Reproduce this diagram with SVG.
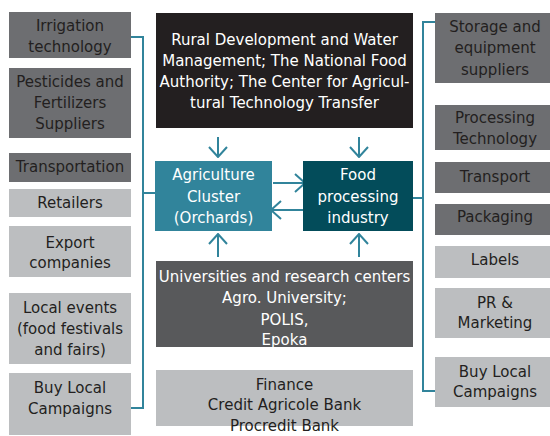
<svg xmlns="http://www.w3.org/2000/svg" width="550" height="436" viewBox="0 0 550 436">
<defs>
<marker id="ah" viewBox="0 0 12 20" refX="11" refY="10" markerWidth="12" markerHeight="20" markerUnits="userSpaceOnUse" orient="auto">
<path d="M1,1 L11,10 L1,19" fill="none" stroke="#31849b" stroke-width="2"/>
</marker>
<style>
text{font-family:"DejaVu Sans","Liberation Sans",sans-serif;font-size:15px;text-anchor:middle;fill:#231f20}
.w{fill:#ffffff}
.dk{fill:#6d6e71}
.lt{fill:#bcbec0}
.ln{fill:none;stroke:#31849b;stroke-width:2}
.ar{fill:none;stroke:#31849b;stroke-width:2;marker-end:url(#ah)}
</style>
</defs>
<rect width="550" height="436" fill="#ffffff"/>
<g id="connectors">
<polyline class="ln" points="131,37 143,37 143,408 131,408"/>
<line class="ln" x1="143" y1="193" x2="155" y2="193"/>
<polyline class="ln" points="413,198 423,198"/>
<polyline class="ln" points="435,22 423,22 423,391 435,391"/>
<line class="ar" x1="218" y1="137" x2="218" y2="157"/>
<line class="ar" x1="359" y1="137" x2="359" y2="157"/>
<line class="ar" x1="273" y1="183" x2="305" y2="183"/>
<line class="ar" x1="303" y1="210" x2="271" y2="210"/>
<line class="ar" x1="218" y1="257" x2="218" y2="234"/>
<line class="ar" x1="359" y1="257" x2="359" y2="234"/>
</g>
<g id="irrigation"><rect class="dk" x="9" y="12" width="122" height="46"/><text x="70" y="31">Irrigation</text><text x="70" y="52">technology</text></g>
<g id="pesticides"><rect class="dk" x="9" y="68" width="122" height="70"/><text x="70" y="87">Pesticides and</text><text x="70" y="108">Fertilizers</text><text x="70" y="129">Suppliers</text></g>
<g id="transportation"><rect class="dk" x="9" y="153" width="122" height="29"/><text x="70" y="172">Transportation</text></g>
<g id="retailers"><rect class="lt" x="9" y="189" width="122" height="28"/><text x="70" y="208">Retailers</text></g>
<g id="export"><rect class="lt" x="9" y="226" width="122" height="51"/><text x="70" y="248">Export</text><text x="70" y="268">companies</text></g>
<g id="localevents"><rect class="lt" x="9" y="293" width="122" height="71"/><text x="70" y="313">Local events</text><text x="70" y="334">(food festivals</text><text x="70" y="355">and fairs)</text></g>
<g id="buylocal-left"><rect class="lt" x="9" y="373" width="122" height="62"/><text x="70" y="393">Buy Local</text><text x="70" y="414">Campaigns</text></g>
<g id="institutions"><rect x="156" y="13" width="257" height="115" fill="#231f20"/><text class="w" x="284.5" y="45">Rural Development and Water</text><text class="w" x="284.5" y="66">Management; The National Food</text><text class="w" x="284.5" y="87">Authority; The Center for Agricul-</text><text class="w" x="284.5" y="108">tural Technology Transfer</text></g>
<g id="agriculture"><rect x="155" y="161" width="117" height="70" fill="#31849b"/><text class="w" x="213.5" y="180">Agriculture</text><text class="w" x="213.5" y="202">Cluster</text><text class="w" x="213.5" y="223">(Orchards)</text></g>
<g id="food"><rect x="303" y="161" width="110" height="70" fill="#034c5a"/><text class="w" x="358" y="180">Food</text><text class="w" x="358" y="202">processing</text><text class="w" x="358" y="223">industry</text></g>
<g id="universities"><rect x="156" y="261" width="257" height="86" fill="#58595b"/><text class="w" x="284.5" y="282">Universities and research centers</text><text class="w" x="284.5" y="303">Agro. University;</text><text class="w" x="284.5" y="325">POLIS,</text><text class="w" x="284.5" y="345">Epoka</text></g>
<g id="finance"><rect class="lt" x="156" y="370" width="257" height="56"/><text x="284.5" y="390">Finance</text><text x="284.5" y="410">Credit Agricole Bank</text><text x="284.5" y="431">Procredit Bank</text></g>
<g id="storage"><rect class="dk" x="435" y="13" width="115" height="70"/><text x="495" y="32">Storage and</text><text x="495" y="53">equipment</text><text x="495" y="75">suppliers</text></g>
<g id="processing"><rect class="dk" x="435" y="105" width="115" height="45"/><text x="495" y="123">Processing</text><text x="495" y="144">Technology</text></g>
<g id="transport"><rect class="dk" x="435" y="162" width="115" height="31"/><text x="495" y="182">Transport</text></g>
<g id="packaging"><rect class="dk" x="435" y="204" width="115" height="31"/><text x="495" y="222">Packaging</text></g>
<g id="labels"><rect class="lt" x="435" y="246" width="115" height="32"/><text x="495" y="265">Labels</text></g>
<g id="pr"><rect class="lt" x="435" y="288" width="115" height="50"/><text x="495" y="308">PR &amp;</text><text x="495" y="328">Marketing</text></g>
<g id="buylocal-right"><rect class="lt" x="435" y="357" width="115" height="50"/><text x="495" y="377">Buy Local</text><text x="495" y="397">Campaigns</text></g>
</svg>
